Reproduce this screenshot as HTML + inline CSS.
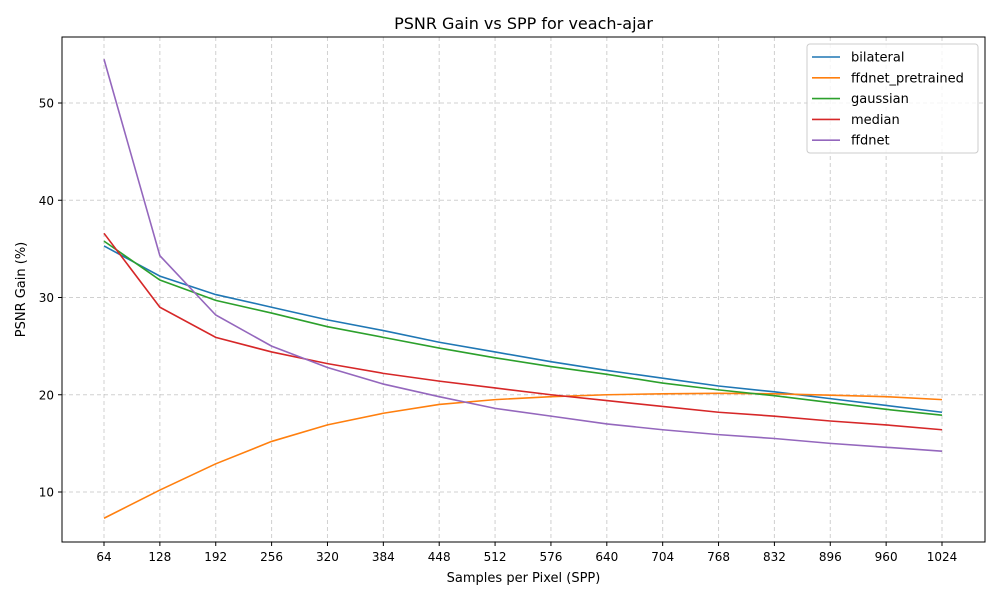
<!DOCTYPE html>
<html><head><meta charset="utf-8"><style>
body{margin:0;background:#fff;font-family:"Liberation Sans","DejaVu Sans",sans-serif;}
svg text{font-family:"DejaVu Sans","Liberation Sans",sans-serif;}
</style></head><body>
<svg id="chart" width="1000" height="600" xmlns="http://www.w3.org/2000/svg">
<rect width="1000" height="600" fill="#fff"/>
<g id="grid"></g>
<g id="series"></g>
<rect x="62" y="37" width="923" height="505" fill="none" stroke="#000" stroke-width="1"/>
<g id="xticks"></g>
<g id="yticks"></g>
<text x="523.5" y="29" font-size="16" text-anchor="middle">PSNR Gain vs SPP for veach-ajar</text>
<text x="523.5" y="582" font-size="13" text-anchor="middle">Samples per Pixel (SPP)</text>
<text x="25" y="289.5" font-size="13" text-anchor="middle" transform="rotate(-90 25 289.5)">PSNR Gain (%)</text>
<g id="legend">
<rect x="807" y="44" width="171" height="109" rx="3" fill="#fff" fill-opacity="0.8" stroke="#ccc"/>
</g>
</svg>
<script>
const categories=[64,128,192,256,320,384,448,512,576,640,704,768,832,896,960,1024];
const seriesNames=["bilateral","ffdnet_pretrained","gaussian","median","ffdnet"];
const bilateral=[35.3,32.2,30.3,29.0,27.7,26.6,25.4,24.4,23.4,22.5,21.7,20.9,20.3,19.6,18.9,18.2];
const ffdnetPretrained=[7.3,10.2,12.9,15.2,16.9,18.1,19.0,19.5,19.8,20.0,20.1,20.15,20.1,19.95,19.8,19.5];
const gaussian=[35.8,31.8,29.7,28.4,27.0,25.9,24.8,23.8,22.9,22.1,21.2,20.5,19.9,19.2,18.5,17.9];
const median=[36.6,29.0,25.9,24.4,23.2,22.2,21.4,20.7,20.0,19.4,18.8,18.2,17.8,17.3,16.9,16.4];
const ffdnet=[54.5,34.3,28.2,25.0,22.8,21.1,19.8,18.6,17.8,17.0,16.4,15.9,15.5,15.0,14.6,14.2];
const yTicks=[10,20,30,40,50];
const colors=["#1f77b4","#ff7f0e","#2ca02c","#d62728","#9467bd"];
const allSeries=[bilateral,ffdnetPretrained,gaussian,median,ffdnet];
const NS="http://www.w3.org/2000/svg";
const X=v=>104+(v-64)/64*55.867;
const Y=v=>492-(v-10)*9.725;
function mk(tag,attrs,parent){const e=document.createElementNS(NS,tag);for(const k in attrs)e.setAttribute(k,attrs[k]);parent.appendChild(e);return e;}
const grid=document.getElementById('grid'),xt=document.getElementById('xticks'),yt=document.getElementById('yticks');
categories.forEach(c=>{const x=X(c);
const g=mk('line',{x1:x,x2:x,y1:37,y2:542,stroke:'#b0b0b0','stroke-opacity':0.6,'stroke-dasharray':'4,3'},grid);


mk('line',{x1:x,x2:x,y1:542,y2:546,stroke:'#000'},xt);
const t=mk('text',{x:x,y:561,'font-size':12,'text-anchor':'middle'},xt);t.textContent=c;

});
yTicks.forEach(v=>{const y=Y(v);
const g=mk('line',{x1:62,x2:985,y1:y,y2:y,stroke:'#b0b0b0','stroke-opacity':0.6,'stroke-dasharray':'4,3'},grid);


mk('line',{x1:58,x2:62,y1:y,y2:y,stroke:'#000'},yt);
const t=mk('text',{x:54,y:y+4.5,'font-size':12,'text-anchor':'end'},yt);t.textContent=v;

});
const sg=document.getElementById('series'),lg=document.getElementById('legend');
allSeries.forEach((s,i)=>{
const p=mk('polyline',{points:s.map((v,j)=>X(categories[j])+','+Y(v)).join(' '),fill:'none',stroke:colors[i],'stroke-width':1.6},sg);


const y=57+i*20.8;
const l=mk('line',{x1:812,x2:840,y1:y,y2:y,stroke:colors[i],'stroke-width':1.6},lg);


const t=mk('text',{x:851,y:y+4.5,'font-size':13},lg);t.textContent=seriesNames[i];

});
</script>
</body></html>
